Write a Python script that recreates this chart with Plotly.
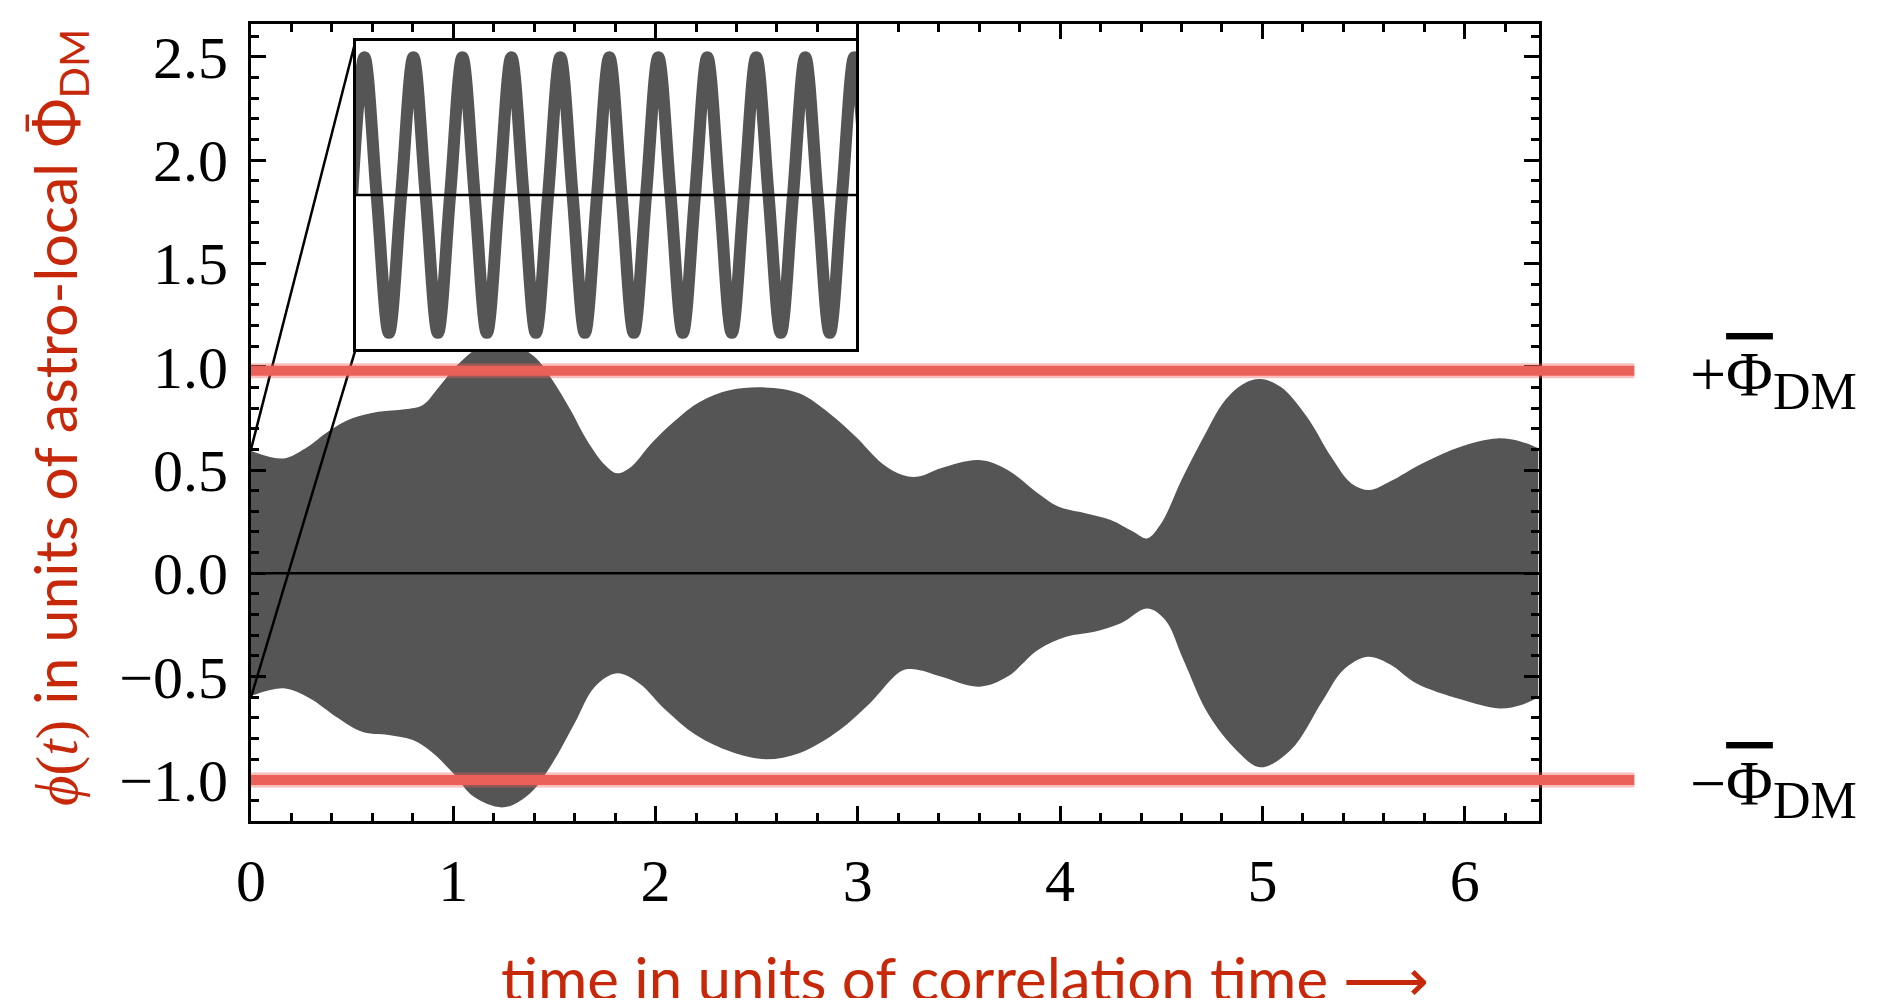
import plotly.graph_objects as go

# ---------------- data ----------------
upper_t = [0.0, 0.16, 0.27, 0.38, 0.50, 0.63, 0.76, 0.85, 0.93, 1.02, 1.12, 1.25,
           1.40, 1.49, 1.58, 1.66, 1.75, 1.81, 1.88, 1.98, 2.09, 2.22, 2.37, 2.54,
           2.71, 2.86, 2.99, 3.12, 3.22, 3.30, 3.41, 3.60, 3.74, 3.89, 3.99, 4.13,
           4.25, 4.36, 4.43, 4.50, 4.60, 4.71, 4.81, 4.91, 4.99, 5.09, 5.22, 5.34,
           5.44, 5.53, 5.63, 5.79, 5.98, 6.16, 6.28, 6.365]
upper_v = [0.593, 0.556, 0.605, 0.685, 0.750, 0.782, 0.794, 0.815, 0.903, 1.008, 1.09, 1.13,
           1.049, 0.936, 0.790, 0.645, 0.524, 0.484, 0.516, 0.629, 0.734, 0.831, 0.887, 0.900,
           0.871, 0.774, 0.661, 0.532, 0.476, 0.468, 0.508, 0.548, 0.500, 0.387, 0.323, 0.290,
           0.258, 0.202, 0.169, 0.242, 0.452, 0.661, 0.831, 0.919, 0.940, 0.903, 0.758, 0.564,
           0.435, 0.403, 0.444, 0.532, 0.613, 0.653, 0.637, 0.605]

lower_t = [0.0, 0.16, 0.29, 0.42, 0.55, 0.68, 0.80, 0.89, 1.00, 1.10, 1.25, 1.38,
           1.49, 1.60, 1.70, 1.81, 1.92, 2.05, 2.20, 2.37, 2.54, 2.71, 2.91, 3.06,
           3.22, 3.30, 3.41, 3.60, 3.74, 3.89, 4.03, 4.17, 4.30, 4.43, 4.52, 4.61,
           4.73, 4.87, 4.99, 5.14, 5.30, 5.40, 5.52, 5.63, 5.76, 5.98, 6.17, 6.28, 6.365]
lower_v = [-0.594, -0.557, -0.605, -0.694, -0.767, -0.783, -0.807, -0.863, -0.968, -1.081, -1.133, -1.065,
           -0.920, -0.726, -0.549, -0.484, -0.533, -0.662, -0.783, -0.863, -0.900, -0.871, -0.758, -0.629,
           -0.471, -0.468, -0.500, -0.549, -0.500, -0.371, -0.307, -0.283, -0.242, -0.170, -0.226, -0.420,
           -0.678, -0.855, -0.939, -0.855, -0.613, -0.468, -0.404, -0.440, -0.532, -0.610, -0.654, -0.637, -0.600]

# inset: zoomed-in oscillation (phase in periods, value in units of local amplitude)
inset_phase = [-0.25, 0.0, 0.25, 0.5, 0.75, 1.0, 1.25, 1.5, 1.75, 2.0, 2.25, 2.5, 2.75,
               3.0, 3.25, 3.5, 3.75, 4.0, 4.25, 4.5, 4.75, 5.0, 5.25, 5.5, 5.75,
               6.0, 6.25, 6.5, 6.75, 7.0, 7.25, 7.5, 7.75, 8.0, 8.25, 8.5, 8.75,
               9.0, 9.25, 9.5, 9.75, 10.0, 10.25]
inset_value = [0, 1, 0, -1, 0, 1, 0, -1, 0, 1, 0, -1, 0,
               1, 0, -1, 0, 1, 0, -1, 0, 1, 0, -1, 0,
               1, 0, -1, 0, 1, 0, -1, 0, 1, 0, -1, 0,
               1, 0, -1, 0, 1, 0]
inset_mid = [0, 0]

band_levels = [0.98, -1.0]          # +/- Phi_DM bands
band_t = [0.0, 6.84]
zero_level = [0, 0]
zoom_source_v = [0.6, -0.6]         # envelope at t=0 that the inset magnifies

x_ticks = [0, 1, 2, 3, 4, 5, 6]
y_ticks = [-1.0, -0.5, 0.0, 0.5, 1.0, 1.5, 2.0, 2.5]

# ---------------- layout geometry ----------------
OFF = 8                       # page body margin
W, H = 1873, 990
ML, MR, MT, MB = 243, 0, 16, 177
PW = W - ML - MR
PH = H - MT - MB
X_RANGE = [0, 6.365]
Y_RANGE = [-1.199, 2.659]
MAIN_RIGHT_PX = 1530.5
dx1 = (MAIN_RIGHT_PX - ML) / PW
dx2 = dx1 * band_t[-1] / X_RANGE[1]

INSET_T = (0.517, 2.992)
INSET_V = (1.084, 2.578)
INSET_XR = [-0.18, 10.04]
INSET_YR = [-1.12, 1.12]


def t2dom(t):
    return dx1 * (t - X_RANGE[0]) / (X_RANGE[1] - X_RANGE[0])


def v2dom(v):
    return (v - Y_RANGE[0]) / (Y_RANGE[1] - Y_RANGE[0])


def px2paper_x(px):
    return (px - OFF - ML) / PW


def px2paper_y(py):
    return (H - MB - (py - OFF)) / PH


GRAY = "#555555"
BAND = "#EC605A"
TITLE_RED = "#C8280A"
SERIF = "Liberation Serif, Times New Roman, serif"
SANS = "Lato, Open Sans, sans-serif"

fig = go.Figure()

# envelope of the fast oscillation
fig.add_trace(go.Scatter(x=upper_t, y=upper_v, mode="lines", line=dict(width=0, color=GRAY, shape="spline"),
                         xaxis="x", yaxis="y", showlegend=False, hoverinfo="skip"))
fig.add_trace(go.Scatter(x=lower_t, y=lower_v, mode="lines", line=dict(width=0, color=GRAY, shape="spline"),
                         fill="tonexty", fillcolor=GRAY,
                         xaxis="x", yaxis="y", showlegend=False, hoverinfo="skip"))
# zero line
fig.add_trace(go.Scatter(x=X_RANGE, y=zero_level, mode="lines", line=dict(width=2.5, color="black"),
                         xaxis="x", yaxis="y", showlegend=False, hoverinfo="skip"))
# zoom connector lines
fig.add_trace(go.Scatter(x=[0, INSET_T[0]], y=[zoom_source_v[0], INSET_V[1]], mode="lines",
                         line=dict(width=2.5, color="black"), xaxis="x", yaxis="y",
                         showlegend=False, hoverinfo="skip"))
fig.add_trace(go.Scatter(x=[0, INSET_T[0]], y=[zoom_source_v[1], INSET_V[0]], mode="lines",
                         line=dict(width=2.5, color="black"), xaxis="x", yaxis="y",
                         showlegend=False, hoverinfo="skip"))

# red bands (on a wider, hidden axis so they extend past the frame)
for lv in band_levels:
    fig.add_trace(go.Scatter(x=band_t, y=[lv, lv], mode="lines",
                             line=dict(width=15, color="rgba(236,96,90,0.40)"),
                             xaxis="x2", yaxis="y2", showlegend=False, hoverinfo="skip"))
    fig.add_trace(go.Scatter(x=band_t, y=[lv, lv], mode="lines",
                             line=dict(width=10, color=BAND),
                             xaxis="x2", yaxis="y2", showlegend=False, hoverinfo="skip"))

# inset
fig.add_trace(go.Scatter(x=inset_phase, y=inset_value, mode="lines",
                         line=dict(width=12, color=GRAY, shape="spline"),
                         xaxis="x3", yaxis="y3", showlegend=False, hoverinfo="skip"))
fig.add_trace(go.Scatter(x=INSET_XR, y=inset_mid, mode="lines",
                         line=dict(width=2.5, color="black"),
                         xaxis="x3", yaxis="y3", showlegend=False, hoverinfo="skip"))

fig.add_shape(type="rect", xref="x3", yref="y3", x0=INSET_XR[0], x1=INSET_XR[1],
              y0=INSET_YR[0], y1=INSET_YR[1], fillcolor="white", line=dict(width=0), layer="below")

tickfont = dict(family=SERIF, size=60, color="black")
fig.update_layout(
    width=W, height=H,
    margin=dict(l=ML, r=MR, t=MT, b=MB, pad=0),
    paper_bgcolor="white",
    plot_bgcolor="rgba(0,0,0,0)",
    showlegend=False,
    xaxis=dict(domain=[0, dx1], range=X_RANGE, anchor="y", tickmode="array", tickvals=x_ticks,
               ticks="inside", ticklen=15, tickwidth=2.5, tickcolor="black",
               showline=True, linewidth=3, linecolor="black", mirror="allticks",
               minor=dict(tick0=0, dtick=0.2, ticks="inside", ticklen=8, tickwidth=2.5, tickcolor="black"),
               showgrid=False, zeroline=False, tickfont=tickfont, ticklabelstandoff=5,
               automargin=False, fixedrange=True),
    yaxis=dict(domain=[0, 1], range=Y_RANGE, anchor="x", tickmode="array", tickvals=y_ticks,
               tickformat=".1f",
               ticks="inside", ticklen=15, tickwidth=2.5, tickcolor="black",
               showline=True, linewidth=3, linecolor="black", mirror="allticks",
               minor=dict(tick0=0, dtick=0.1, ticks="inside", ticklen=8, tickwidth=2.5, tickcolor="black"),
               showgrid=False, zeroline=False, tickfont=tickfont, ticklabelstandoff=8,
               automargin=False, fixedrange=True),
    xaxis2=dict(domain=[0, dx2], range=band_t, anchor="y2", visible=False, fixedrange=True),
    yaxis2=dict(domain=[0, 1], range=Y_RANGE, anchor="x2", visible=False, fixedrange=True),
    xaxis3=dict(domain=[t2dom(INSET_T[0]), t2dom(INSET_T[1])], range=INSET_XR, anchor="y3",
                showline=True, mirror=True, linewidth=3, linecolor="black", ticks="",
                showticklabels=False, showgrid=False, zeroline=False, fixedrange=True),
    yaxis3=dict(domain=[v2dom(INSET_V[0]), v2dom(INSET_V[1])], range=INSET_YR, anchor="x3",
                showline=True, mirror=True, linewidth=3, linecolor="black", ticks="",
                showticklabels=False, showgrid=False, zeroline=False, fixedrange=True),
)

label_font = dict(family=SERIF, size=64, color="black")
PHI_BAR = "<span style=\"text-decoration:overline\">Φ</span>"
annotations = [
    dict(text="<span style=\"font-family:'Liberation Serif'\"><i>ϕ</i>(<i>t</i>)</span> in units of astro-local Φ̄<sub>DM</sub>",
         xref="paper", yref="paper", x=px2paper_x(58), y=px2paper_y(418), xanchor="center", yanchor="middle",
         textangle=-90, showarrow=False, font=dict(family=SANS, size=59, color=TITLE_RED)),
    dict(text="time in units of correlation time ⟶",
         xref="paper", yref="paper", x=px2paper_x(965), y=px2paper_y(978), xanchor="center", yanchor="middle",
         showarrow=False, font=dict(family=SANS, size=60, color=TITLE_RED)),
    dict(text="+" + PHI_BAR + "<sub><span style=\"font-size:52px\">DM</span></sub>",
         xref="paper", yref="y", x=px2paper_x(1688), y=band_levels[0], xanchor="left", yanchor="middle",
         yshift=-9, showarrow=False, font=label_font),
    dict(text="−" + PHI_BAR + "<sub><span style=\"font-size:52px\">DM</span></sub>",
         xref="paper", yref="y", x=px2paper_x(1688), y=band_levels[1], xanchor="left", yanchor="middle",
         yshift=-9, showarrow=False, font=label_font),
]
fig.update_layout(annotations=annotations)

fig.write_html("out.html")
